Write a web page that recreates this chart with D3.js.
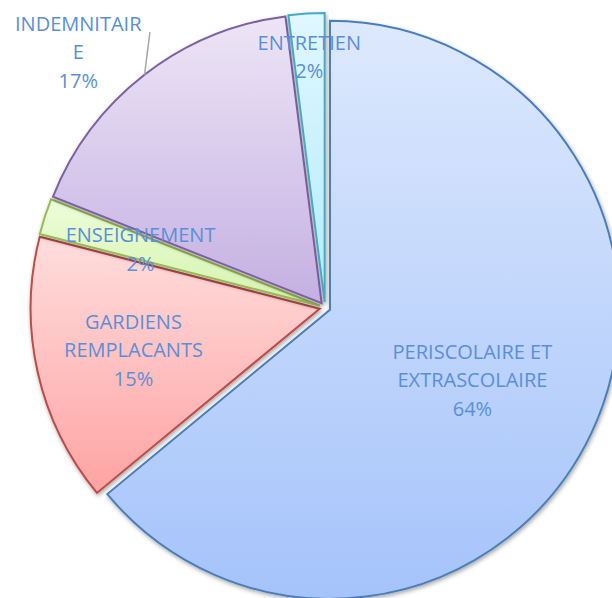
<!DOCTYPE html>
<html>
<head>
<meta charset="utf-8">
<script src="https://cdn.jsdelivr.net/npm/d3@7"></script>
<style>
	body { margin: 0; background: #fff; }
	svg { display: block; }
	.label { font-family: "Open Sans", sans-serif; font-size: 20px; fill: #5a8fd8; }
</style>
</head>
<body>
<script>
var categories = ['PERISCOLAIRE ET EXTRASCOLAIRE', 'GARDIENS REMPLACANTS', 'ENSEIGNEMENT', 'INDEMNITAIRE', 'ENTRETIEN'];
var values = [64, 15, 2, 17, 2];
var labelLines = [
	['PERISCOLAIRE ET', 'EXTRASCOLAIRE', '64%'],
	['GARDIENS', 'REMPLACANTS', '15%'],
	['ENSEIGNEMENT', '2%'],
	['INDEMNITAIR', 'E', '17%'],
	['ENTRETIEN', '2%']
];

var width = 612;
var height = 598;
var cx = 325, cy = 307.5;
var radius = 289;
var explode = 5.5;
var lineHeight = 28.5;

var fills = [['#dde9fd', '#a5c3fa'], ['#ffdddd', '#ffa3a3'], ['#ecfdd9', '#d5f3ae'], ['#ede5f6', '#c5b0e2'], ['#e0f7ff', '#b3ebfb']];
var strokes = ['#4a7ebb', '#be4b48', '#98b954', '#7d60a0', '#46aac5'];
// radius factor and angle shift for each label
var labelPos = [[0.55, 0.02], [0.66, 0], [0.65, -0.01], [1.21, -0.11], [0.85, 0]];

var svg = d3.select('body')
	.append('svg')
	.attr('width', width)
	.attr('height', height);

var defs = svg.append('defs');

var shadow = defs.append('filter')
	.attr('id', 'shadow')
	.attr('x', '-10%').attr('y', '-10%')
	.attr('width', '120%').attr('height', '120%');
shadow.append('feDropShadow')
	.attr('dx', 1).attr('dy', 2)
	.attr('stdDeviation', 2)
	.attr('flood-color', '#000')
	.attr('flood-opacity', 0.35);

fills.forEach(function(f, i) {
	var g = defs.append('linearGradient')
		.attr('id', 'grad' + i)
		.attr('x1', 0).attr('y1', 0)
		.attr('x2', 0).attr('y2', 1);
	g.append('stop').attr('offset', '0%').attr('stop-color', f[0]);
	g.append('stop').attr('offset', '100%').attr('stop-color', f[1]);
});

var pie = d3.pie()
	.sort(null)
	.value(function(d) { return d; });

var arcs = pie(values);

var arc = d3.arc()
	.innerRadius(0)
	.outerRadius(radius);

function offset(d) {
	var a = (d.startAngle + d.endAngle) / 2;
	return [Math.sin(a) * explode, -Math.cos(a) * explode];
}

var chart = svg.append('g')
	.attr('transform', 'translate(' + cx + ',' + cy + ')');

chart.selectAll('path.slice')
	.data(arcs)
	.enter()
	.append('path')
	.attr('class', 'slice')
	.attr('transform', function(d) {
		var o = offset(d);
		return 'translate(' + o[0] + ',' + o[1] + ')';
	})
	.attr('d', arc)
	.attr('fill', function(d, i) { return 'url(#grad' + i + ')'; })
	.attr('stroke', function(d, i) { return strokes[i]; })
	.attr('stroke-width', 2)
	.attr('stroke-linejoin', 'miter')
	.attr('filter', 'url(#shadow)');

function labelPoint(d, i) {
	var o = offset(d);
	var a = (d.startAngle + d.endAngle) / 2 + labelPos[i][1];
	var r = radius * labelPos[i][0];
	return [o[0] + Math.sin(a) * r, o[1] - Math.cos(a) * r];
}

// leader line for the label placed outside
chart.selectAll('line.leader')
	.data(arcs.filter(function(d, i) { return labelPos[i][0] > 1; }))
	.enter()
	.append('line')
	.attr('class', 'leader')
	.attr('x1', function(d) {
		var a = (d.startAngle + d.endAngle) / 2;
		return offset(d)[0] + Math.sin(a) * radius;
	})
	.attr('y1', function(d) {
		var a = (d.startAngle + d.endAngle) / 2;
		return offset(d)[1] - Math.cos(a) * radius;
	})
	.attr('x2', function(d) {
		var a = (d.startAngle + d.endAngle) / 2 + 0.095;
		return offset(d)[0] + Math.sin(a) * radius * 1.11;
	})
	.attr('y2', function(d) {
		var a = (d.startAngle + d.endAngle) / 2 + 0.095;
		return offset(d)[1] - Math.cos(a) * radius * 1.11;
	})
	.attr('stroke', '#a6a6a6')
	.attr('stroke-width', 1.5);

var labels = chart.selectAll('text.label')
	.data(arcs)
	.enter()
	.append('text')
	.attr('class', 'label')
	.attr('text-anchor', 'middle')
	.attr('transform', function(d, i) {
		var p = labelPoint(d, i);
		return 'translate(' + p[0] + ',' + p[1] + ')';
	});

labels.each(function(d, i) {
	var lines = labelLines[i];
	var t = d3.select(this);
	lines.forEach(function(l, j) {
		t.append('tspan')
			.attr('x', 0)
			.attr('y', (j - (lines.length - 1) / 2) * lineHeight)
			.attr('dy', '0.35em')
			.text(l);
	});
});
</script>
</body>
</html>
